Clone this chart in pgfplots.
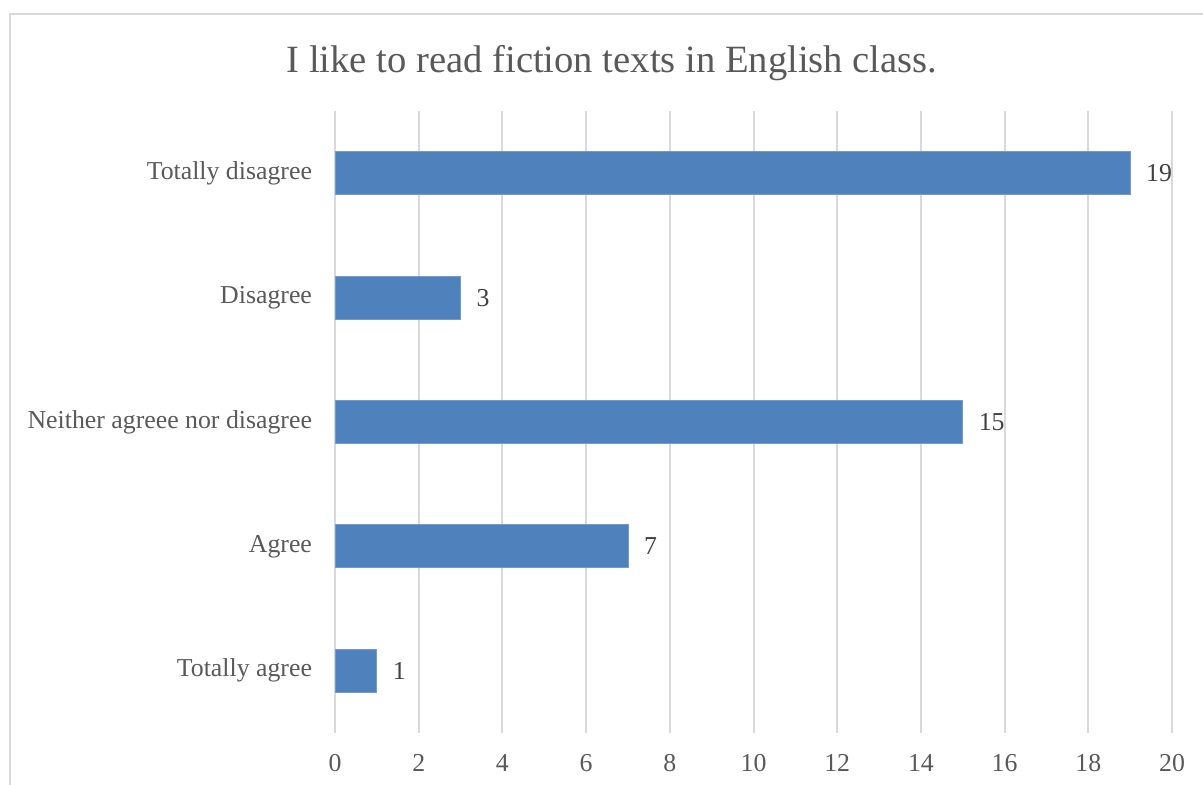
\documentclass[border=0pt]{standalone}
\usepackage{pgfplots}
\pgfplotsset{compat=1.18}
\usepackage{fontspec}
\setmainfont{Liberation Serif}
\definecolor{barblue}{HTML}{4F81BD}
\definecolor{gridgray}{HTML}{D9D9D9}
\definecolor{txtgray}{HTML}{595959}
\definecolor{lblgray}{HTML}{404040}
\begin{document}
\begin{tikzpicture}
\useasboundingbox (0pt,0pt) rectangle (601.5pt,392.5pt);
\draw[gridgray, line width=1pt] (5pt,-10pt) -- (5pt,385.5pt) -- (615pt,385.5pt);
\node[txtgray, font=\fontsize{19.3}{23}\selectfont] at (306pt,361pt) {I like to read fiction texts in English class.};
\coordinate (o) at (167.5pt,26pt);
\begin{axis}[
  at={(o)}, anchor=south west,
  scale only axis,
  width=418.5pt, height=311pt,
  xbar, bar width=21.5pt,
  xmin=0, xmax=20,
  ymin=-0.5, ymax=4.5,
  xtick={0,2,...,20},
  ytick={0,1,2,3,4},
  yticklabels={Totally agree, Agree, Neither agreee nor disagree, Disagree, Totally disagree},
  axis line style={draw=none},
  major tick length=0pt,
  xmajorgrids, grid style={gridgray, line width=1pt},
  tick label style={txtgray, font=\fontsize{12.9}{15}\selectfont},
  /pgf/number format/assume math mode=true,
  xticklabel style={yshift=-7pt},
  yticklabel style={xshift=-8pt},
  nodes near coords,
  every node near coord/.append style={lblgray, font=\fontsize{12.9}{15}\selectfont, xshift=4.5pt},
]
\addplot[fill=barblue, draw=barblue!80!white] coordinates {(1,0) (7,1) (15,2) (3,3) (19,4)};
\end{axis}
\end{tikzpicture}
\end{document}
